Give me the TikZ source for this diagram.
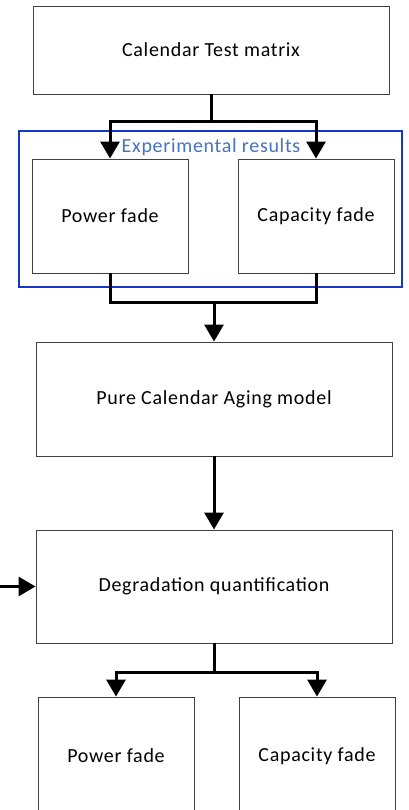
\documentclass[tikz,border=0pt]{standalone}
\usepackage{fontspec}
\setmainfont{Carlito}[LetterSpace=3.5]
\usetikzlibrary{arrows.meta}
\definecolor{groupBlue}{RGB}{20,55,200}
\definecolor{groupText}{RGB}{68,114,196}

\begin{document}
\begin{tikzpicture}
[x=1pt,y=-1pt,
 boxDecorate/.style={shape=rectangle,draw=black!75,line width=0.9pt,inner sep=0pt,
   font=\fontsize{20}{24}\selectfont}]
\useasboundingbox (0,0) rectangle (408,810);
%% group frame
\node (results) at (210.5,209) [draw=groupBlue,line width=1.6pt,minimum width=383pt,minimum height=156pt] {};
\node (resultsLabel) at (211,147) [text=groupText,font=\fontsize{20}{24}\selectfont] {Experimental results};
%% nodes or boxes
\foreach \nodename/\x/\y/\w/\h/\txt in {
  matrix/211/50/356/88/Calendar Test matrix,
  power1/110/216/156/114/Power fade,
  capacity1/316/216/156/114/Capacity fade,
  aging/214/399/356/114/Pure Calendar Aging model,
  degrad/214/586.5/356/113/Degradation quantification,
  power2/116/756/156/118/Power fade,
  capacity2/317/756/156/118/Capacity fade}
{
  \node (\nodename) at (\x,\y) [boxDecorate,minimum width=\w pt,minimum height=\h pt] {\txt};
}
%% edges or lines
\tikzstyle{EdgeStyle}=[line width=3pt,-{Triangle[length=17pt,width=19pt]}]
\coordinate (split1) at (211,122);
\coordinate (merge) at (214,302);
\coordinate (split2) at (214,672);
\coordinate (input) at (0,586.5);
\draw[line width=3pt] (matrix.south) -- (split1);
\draw[EdgeStyle] (split1) -| (power1.north);
\draw[EdgeStyle] (split1) -| (capacity1.north);
\draw[line width=3pt] (power1.south) |- (merge);
\draw[line width=3pt] (capacity1.south) |- (merge);
\draw[EdgeStyle] (merge) -- (aging.north);
\draw[EdgeStyle] (aging.south) -- (degrad.north);
\draw[EdgeStyle] (input) -- (degrad.west);
\draw[line width=3pt] (degrad.south) -- (split2);
\draw[EdgeStyle] (split2) -| (power2.north);
\draw[EdgeStyle] (split2) -| (capacity2.north);
\end{tikzpicture}
\end{document}
